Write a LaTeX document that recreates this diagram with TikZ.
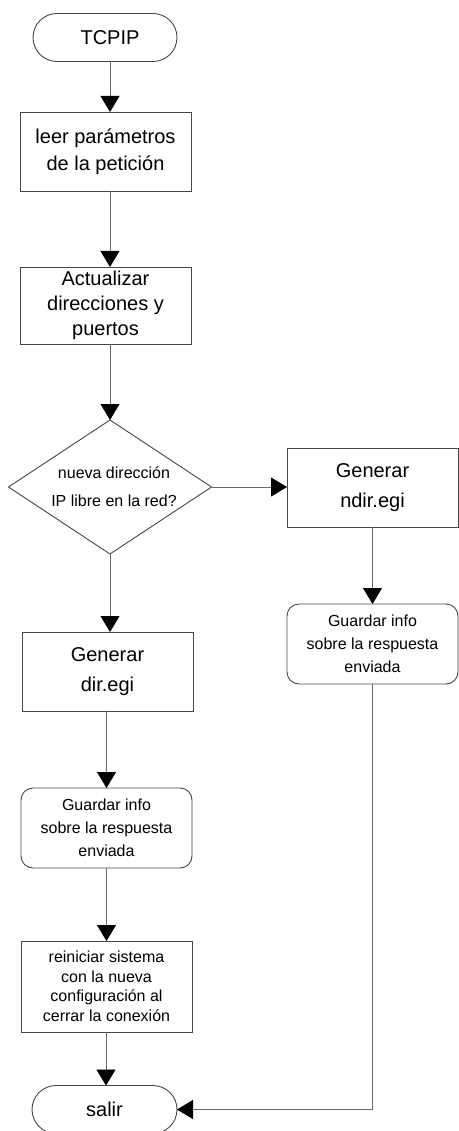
\documentclass[tikz,border=0pt]{standalone}
\usepackage{fontspec}
\setmainfont{Liberation Sans}
\usetikzlibrary{arrows.meta,shapes.geometric}
\usepackage{xcolor}
\definecolor{boxedge}{RGB}{70,70,70}
\definecolor{linegray}{RGB}{105,105,105}
\newcommand{\bigtxt}{\fontsize{20}{27}\selectfont}
\newcommand{\smalltxt}{\fontsize{16}{23}\selectfont}

\begin{document}
\begin{tikzpicture}[x=1pt,y=-1pt,
  proc/.style={draw=boxedge,line width=0.9pt,minimum width=171pt,minimum height=79pt,
    align=center,outer sep=0pt,inner sep=2pt,font=\bigtxt},
  term/.style={proc,rounded corners=24pt,minimum width=144pt,minimum height=48pt},
  store/.style={proc,rounded corners=12pt,minimum height=80pt,font=\smalltxt},
  decide/.style={draw=boxedge,line width=0.9pt,diamond,aspect=1.5,inner sep=0pt,
    minimum width=203pt,minimum height=134pt,align=center,outer sep=0pt},
  flow/.style={draw=linegray,line width=0.8pt,-{Triangle[length=16pt,width=19pt,color=black]}}]
  \useasboundingbox (0,0) rectangle (458,1131);

  % main column
  \node[term] (tcpip) at (105,37.5){\hspace*{10pt}TCPIP};
  \node[proc] (leer) at (105.5,151.5){leer parámetros\\de la petición};
  \node[proc,minimum height=77pt,font=\fontsize{20}{25}\selectfont] (actual) at (105.5,305.5)
    {Actualizar\\direcciones y\\puertos};
  \node[decide,font=\fontsize{16}{28}\selectfont] (decision) at (110,487)
    {\hspace*{8pt}nueva dirección\\\hspace*{8pt}IP libre en la red?};

  % right branch
  \node[proc,font=\fontsize{20}{30}\selectfont] (ndir) at (372.5,487.5){Generar\\ndir.egi};
  \node[store] (guardR) at (372.5,644){Guardar info\\sobre la respuesta\\enviada};

  % lower column
  \node[proc,font=\fontsize{20}{30}\selectfont] (gendir) at (107.5,671.5){Generar\\dir.egi};
  \node[store] (guardL) at (106.5,828){Guardar info\\sobre la respuesta\\enviada};
  \node[proc,minimum height=91pt,font=\fontsize{16}{19.5}\selectfont] (reinic) at (106.5,986.5)
    {reiniciar sistema\\ con la nueva\\configuración al\\cerrar la conexión};
  \node[term,minimum width=145pt] (salir) at (104.5,1109.5){salir};

  \draw[flow] (tcpip.south -| decision.north) -- (leer.north -| decision.north);
  \draw[flow] (leer.south -| decision.north) -- (actual.north -| decision.north);
  \draw[flow] (actual.south -| decision.north) -- (decision.north);
  \draw[flow] (decision.east) -- (ndir.west |- decision.east);
  \draw[flow] (ndir.south) -- (guardR.north);
  \draw[flow] (decision.south) -- (decision.south |- gendir.north);
  \draw[flow] (gendir.south -| guardL.north) -- (guardL.north);
  \draw[flow] (guardL.south) -- (reinic.north);
  \draw[flow] (reinic.south -| 106,0) -- (salir.north -| 106,0);
  \draw[flow] (guardR.south) |- (salir.east);
\end{tikzpicture}
\end{document}
